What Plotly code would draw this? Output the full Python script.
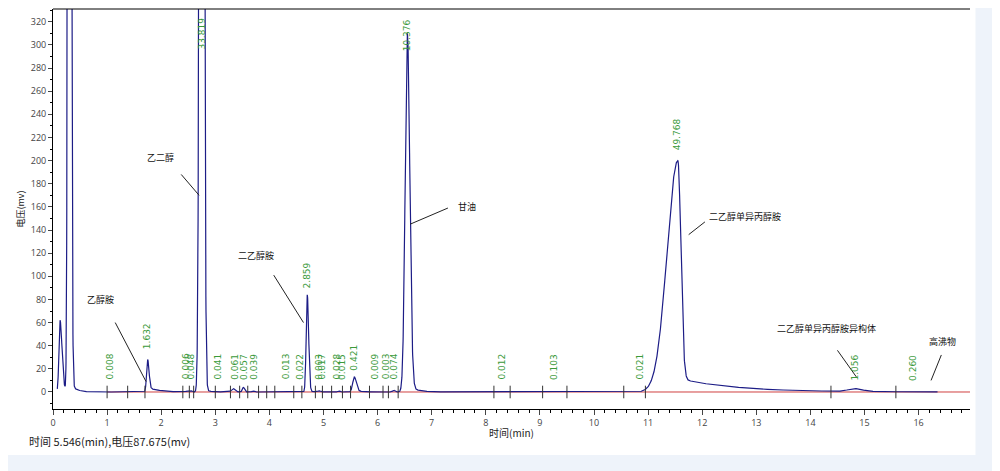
import numpy as np
import plotly.graph_objects as go

# peak parameters: retention time (min), height (mV), left/right widths, tail amplitude, tail decay
peak_rt     = [0.13, 0.30, 1.75, 2.48, 2.55, 2.75, 3.33, 3.52, 3.70, 4.70, 4.92, 5.28, 5.57, 6.30, 6.55, 8.30, 9.25, 11.55, 14.82]
peak_height = [62, 2000, 28, 0.8, 1.0, 2000, 3, 4, 1, 84, 1, 1, 13, 1.5, 310, 0.6, 0.6, 200, 2.5]
peak_sl     = [0.02, 0.02, 0.02, 0.02, 0.02, 0.03, 0.03, 0.02, 0.02, 0.02, 0.02, 0.02, 0.03, 0.02, 0.04, 0.05, 0.08, 0.2, 0.12]
peak_sr     = [0.035, 0.025, 0.025, 0.02, 0.02, 0.03, 0.03, 0.02, 0.02, 0.025, 0.02, 0.02, 0.035, 0.02, 0.045, 0.05, 0.08, 0.055, 0.14]
tail_amp    = [5, 8, 4, 0, 0, 3, 0, 0, 0, 1, 0, 0, 2, 0, 6, 0, 0, 12, 0]
tail_tau    = [0.1, 0.1, 0.2, 1, 1, 0.1, 1, 1, 1, 0.1, 1, 1, 0.1, 1, 0.15, 1, 1, 1.0, 1]

# area-% labels: time, text, label base (mV)
lab_t   = [1.05, 1.75, 2.45, 2.55, 2.75, 3.05, 3.35, 3.52, 3.70, 4.30, 4.55, 4.70, 4.90, 4.97, 5.25, 5.33, 5.57, 5.95, 6.15, 6.30, 6.55, 8.30, 9.25, 10.85, 11.55, 14.82, 15.90]
lab_txt = ["0.008", "1.632", "0.006", "0.048", "33.819", "0.041", "0.061", "0.057", "0.039", "0.013", "0.022", "2.859",
           "0.003", "0.017", "0.028", "0.015", "0.421", "0.009", "0.003", "0.074", "10.376", "0.012", "0.103", "0.021",
           "49.768", "1.056", "0.260"]
lab_y   = [9, 35, 9, 9, 294, 9, 9, 9, 9, 9, 9, 88, 9, 9, 9, 9, 17, 9, 9, 9, 293, 9, 9, 9, 207, 8, 8]

# integration boundary marks
bound_t = [1.0, 1.38, 1.7, 2.4, 2.52, 2.6, 3.0, 3.28, 3.45, 3.6, 3.8, 3.95, 4.1, 4.45, 4.6, 4.85, 4.98, 5.15, 5.35, 5.5,
           5.85, 6.1, 6.2, 6.38, 8.15, 8.45, 9.05, 9.5, 10.55, 10.95, 14.38, 15.58]

# text labels of compounds: text, x, y, line start, line end
comp_txt = ["乙醇胺", "乙二醇", "二乙醇胺", "甘油", "二乙醇单异丙醇胺", "二乙醇单异丙醇胺异构体", "高沸物"]
comp_x   = [0.88, 1.98, 3.75, 7.65, 12.8, 14.3, 16.45]
comp_y   = [80, 203, 118, 160, 152, 55, 44]
line_x0  = [1.15, 2.37, 4.08, 7.3, 12.05, 14.5, 16.42]
line_y0  = [60, 188, 101, 159, 147, 36, 32]
line_x1  = [1.72, 2.70, 4.63, 6.6, 11.75, 14.85, 16.23]
line_y1  = [9, 170, 60, 145, 136, 13, 10]

t = np.linspace(0.08, 16.35, 8000)
y = np.zeros_like(t)
for rt, h, sl, sr, ta, tt in zip(peak_rt, peak_height, peak_sl, peak_sr, tail_amp, tail_tau):
    s = np.where(t < rt, sl, sr)
    y += h * np.exp(-0.5 * ((t - rt) / s) ** 2)
    y += np.where(t > rt, ta * np.exp(-(t - rt) / tt) * (1 - np.exp(-((t - rt) / (sr * 1.5)) ** 2)), 0)

fig = go.Figure()
fig.add_trace(go.Scatter(x=[1.0, 17.0], y=[0, 0], mode="lines", line=dict(color="#d04040", width=1), hoverinfo="skip"))
fig.add_trace(go.Scatter(x=t, y=y, mode="lines", line=dict(color="#1c1c86", width=1.2)))
fig.add_trace(go.Scatter(x=bound_t, y=[0] * len(bound_t), mode="markers",
                         marker=dict(symbol="line-ns", size=9, line=dict(color="#333", width=1))))

for tx, tl, ty in zip(lab_t, lab_txt, lab_y):
    fig.add_annotation(x=tx, y=ty, text=tl, textangle=-90, showarrow=False, xanchor="center", yanchor="bottom",
                       font=dict(size=9, color="#3a9a3a", family="DejaVu Sans"))
for tx, cx, cy, a, b, c, d in zip(comp_txt, comp_x, comp_y, line_x0, line_y0, line_x1, line_y1):
    fig.add_annotation(x=cx, y=cy, text=tx, showarrow=False, font=dict(size=9, color="#111", family="Noto Sans CJK SC"))
    fig.add_shape(type="line", x0=a, y0=b, x1=c, y1=d, line=dict(color="#222", width=1))

fig.add_annotation(xref="paper", yref="paper", x=-0.028, y=-0.08, xanchor="left", yanchor="middle", showarrow=False,
                   text="时间 5.546(min),电压87.675(mv)", font=dict(size=11, color="#222", family="Noto Sans CJK SC"))
fig.add_shape(type="rect", xref="paper", yref="paper", x0=-0.06, x1=1.04, y0=-0.115, y1=-0.2,
              fillcolor="#eef3fa", line=dict(width=0), layer="below")
fig.add_shape(type="rect", xref="paper", yref="paper", x0=1.006, x1=1.04, y0=-0.2, y1=1.05,
              fillcolor="#eef3fa", line=dict(width=0), layer="below")

fig.update_layout(
    width=992, height=463, margin=dict(l=45, r=30, t=1, b=62, autoexpand=False),
    paper_bgcolor="white", plot_bgcolor="white", showlegend=False,
    xaxis=dict(range=[0, 16.95], dtick=1, ticks="outside", ticklen=5, showgrid=False, zeroline=False,
               showline=True, linecolor="black", mirror=False,
               minor=dict(dtick=0.2, ticks="outside", ticklen=3, tickcolor="black"),
               tickfont=dict(size=9, color="#444"),
               title=dict(text="时间(min)", font=dict(size=10, family="Noto Sans CJK SC", color="#222"), standoff=2)),
    yaxis=dict(range=[-14.7, 331], tick0=0, dtick=20, ticks="outside", ticklen=4, showgrid=False, zeroline=False,
               showline=True, linecolor="black", tickfont=dict(size=9, color="#444"),
               minor=dict(dtick=10, ticks="outside", ticklen=2, tickcolor="black"),
               title=dict(text="电压(mv)", font=dict(size=9, family="Noto Sans CJK SC", color="#222"), standoff=4)),
)
fig.add_shape(type="line", xref="paper", yref="paper", x0=0, x1=1, y0=1, y1=1, line=dict(color="black", width=1))
fig.write_html("out.html")
